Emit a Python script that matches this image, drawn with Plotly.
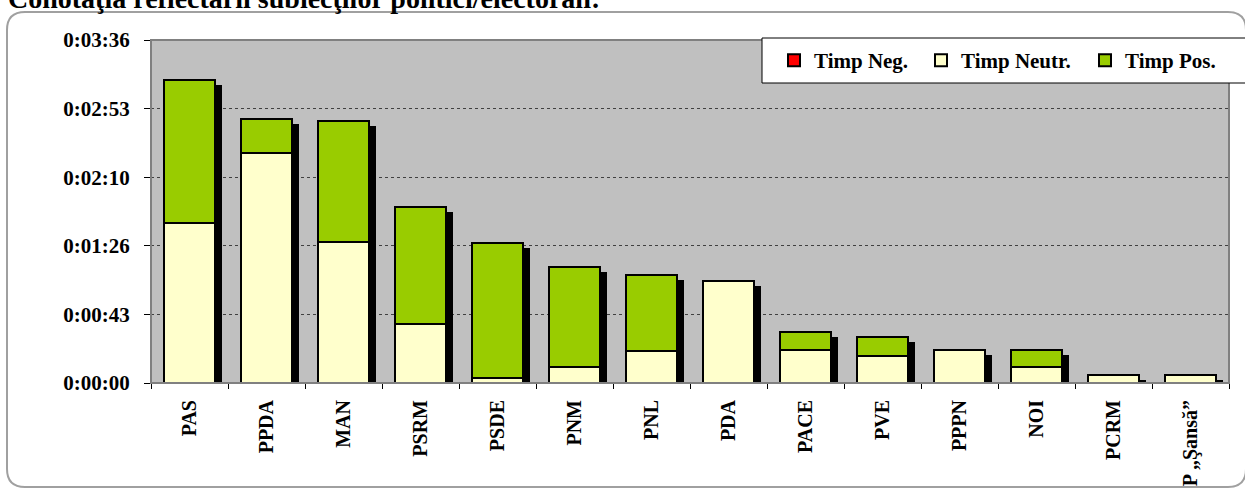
import plotly.graph_objects as go

# ---- data (seconds) ----
categories = ["PAS", "PPDA", "MAN", "PSRM", "PSDE", "PNM", "PNL", "PDA",
              "PACE", "PVE", "PPPN", "NOI", "PCRM", "P „Şansă”"]
timp_neg = [0, 0, 0, 0, 0, 0, 0, 0, 0, 0, 0, 0, 0, 0]
timp_neutr = [101, 145, 89, 37, 3, 10, 20, 64, 21, 17, 21, 10, 5, 5]
timp_pos = [90, 21, 76, 74, 85, 63, 48, 0, 11, 12, 0, 11, 0, 0]
tick_vals = [0, 43.2, 86.4, 129.6, 172.8, 216]
tick_text = ["0:00:00", "0:00:43", "0:01:26", "0:02:10", "0:02:53", "0:03:36"]
title_text = "Conotaţia reflectării subiecţilor politici/electorali:"

# ---- style ----
FONT = "Liberation Serif, Times New Roman, serif"
W = 0.675          # bar width (category units)
DX = 0.087         # shadow shift right
DROP = 3.1         # shadow shift down (seconds)
W_PX, H_PX = 1245, 488
L, R, T, B = 151, 16, 40, 105
PW, PH = W_PX - L - R, H_PX - T - B


def px_x(px):
    return (px - L) / PW


def px_y(py):
    return (H_PX - B - py) / PH


totals = [n + p + g for n, p, g in zip(timp_neutr, timp_pos, timp_neg)]
shadow = [max(t - DROP, 0) for t in totals]
bases_pos = [n + g for n, g in zip(timp_neutr, timp_neg)]

fig = go.Figure()
fig.add_trace(go.Bar(x=categories, y=shadow, base=0, width=W, offset=-W / 2 + DX,
                     marker=dict(color="black", line=dict(width=0)),
                     showlegend=False, hoverinfo="skip"))
fig.add_trace(go.Bar(x=categories, y=timp_neg, base=0, width=W, offset=-W / 2,
                     name="Timp Neg.", legend="legend",
                     marker=dict(color="#FF0000", line=dict(color="black", width=2))))
fig.add_trace(go.Bar(x=categories, y=timp_neutr, base=timp_neg, width=W, offset=-W / 2,
                     name="Timp Neutr.", legend="legend2",
                     marker=dict(color="#FFFFCC", line=dict(color="black", width=2))))
fig.add_trace(go.Bar(x=categories, y=timp_pos, base=bases_pos, width=W, offset=-W / 2,
                     name="Timp Pos.", legend="legend3",
                     marker=dict(color="#99CC00", line=dict(color="black", width=2))))

legend_common = dict(orientation="h", yanchor="middle", y=px_y(60.5), xanchor="left",
                     bgcolor="rgba(0,0,0,0)", borderwidth=0,
                     font=dict(family=FONT, size=21, color="black", weight="bold"))

shapes = [
    # outer rounded chart border
    dict(type="path", xref="paper", yref="paper", layer="above",
         path=(f"M {px_x(7)},{px_y(30)} L {px_x(7)},{px_y(469)} "
               f"Q {px_x(7)},{px_y(487)} {px_x(25)},{px_y(487)} "
               f"L {px_x(1228)},{px_y(487)} Q {px_x(1246)},{px_y(487)} {px_x(1246)},{px_y(469)} "
               f"L {px_x(1246)},{px_y(30)} Q {px_x(1246)},{px_y(12)} {px_x(1228)},{px_y(12)} "
               f"L {px_x(25)},{px_y(12)} Q {px_x(7)},{px_y(12)} {px_x(7)},{px_y(30)} Z"),
         line=dict(color="#A0A0A0", width=2)),
    # plot area border (top/right)
    dict(type="rect", xref="paper", yref="paper", x0=0, x1=1, y0=0, y1=1, layer="above",
         line=dict(color="#808080", width=2)),
    # legend box
    dict(type="rect", xref="paper", yref="paper", layer="above",
         x0=px_x(762), x1=px_x(1250), y0=px_y(83), y1=px_y(38),
         fillcolor="white", line=dict(color="black", width=1)),
]

fig.update_layout(
    width=W_PX, height=H_PX, autosize=False,
    margin=dict(l=L, r=R, t=T, b=B, pad=0, autoexpand=False),
    paper_bgcolor="white", plot_bgcolor="#C0C0C0",
    barmode="overlay", bargap=0,
    showlegend=True,
    legend=dict(legend_common, x=px_x(816 - 42)),
    legend2=dict(legend_common, x=px_x(963 - 42)),
    legend3=dict(legend_common, x=px_x(1127 - 42)),
    shapes=shapes,
    annotations=[dict(text=title_text, xref="paper", yref="paper",
                      x=px_x(6), y=px_y(16), xanchor="left", yanchor="bottom",
                      showarrow=False,
                      font=dict(family=FONT, size=28, color="black", weight="bold"))],
    xaxis=dict(type="category", tickson="boundaries", ticks="outside", ticklen=5,
               tickcolor="black", showline=True, linecolor="black", linewidth=1,
               tickangle=-90, showgrid=False, ticklabelstandoff=8, automargin=False,
               tickfont=dict(family=FONT, size=20, color="black", weight="bold")),
    yaxis=dict(range=[0, 216], tickvals=tick_vals, ticktext=tick_text,
               ticks="outside", ticklen=6, tickcolor="black", automargin=False,
               showline=True, linecolor="black", linewidth=1,
               showgrid=True, gridcolor="#404040", griddash="dot", gridwidth=1,
               zeroline=False, ticklabelstandoff=10,
               tickfont=dict(family=FONT, size=21, color="black", weight="bold")),
)

fig.write_html("out.html", config={"displayModeBar": False},
               post_script="document.body.style.margin='0';"
                           "document.body.style.overflow='hidden';")
